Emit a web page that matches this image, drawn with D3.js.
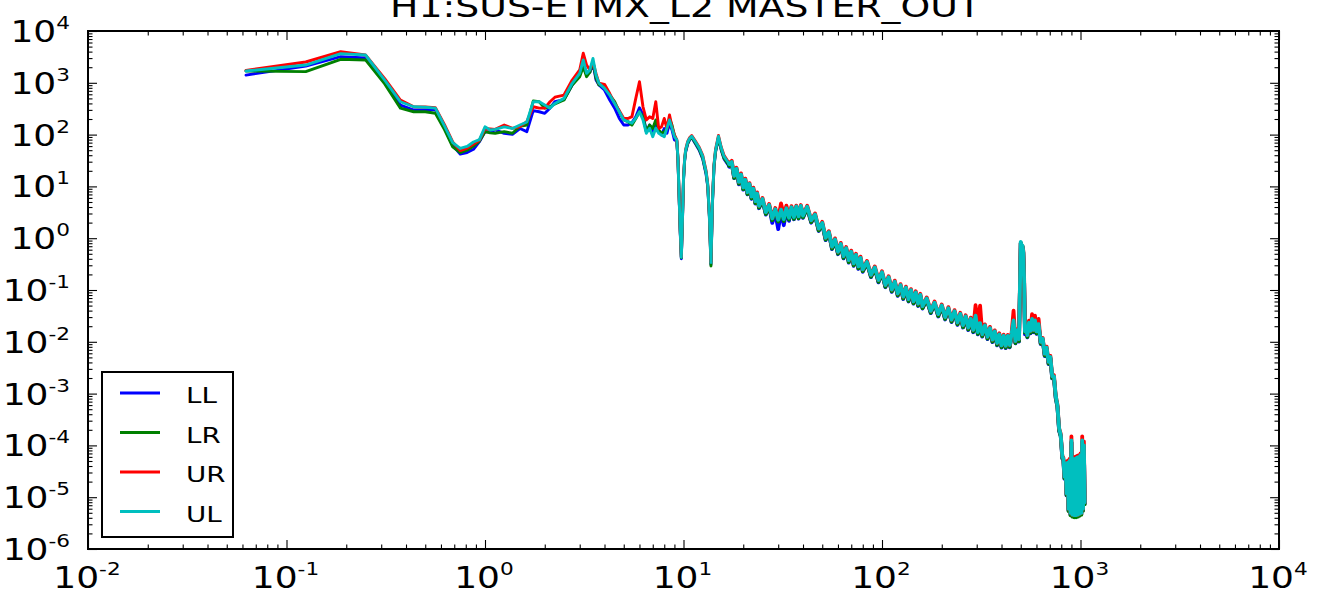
<!DOCTYPE html>
<html><head><meta charset="utf-8">
<script src="https://cdn.jsdelivr.net/npm/d3@7"></script>
<style>html,body{margin:0;padding:0;background:#fff;overflow:hidden}</style>
</head><body>
<svg id="chart" width="1318" height="595"></svg>
<script>
const chartTitle = "H1:SUS-ETMX_L2 MASTER_OUT";
const seriesNames = ["LL", "LR", "UR", "UL"];
const seriesColors = ["#0000ff", "#008000", "#ff0000", "#00bfbf"];
const xTickExps = [-2, -1, 0, 1, 2, 3, 4];
const yTickExps = [-6, -5, -4, -3, -2, -1, 0, 1, 2, 3, 4];

// frequency (Hz)
const freq = [
  0.0625, 0.125, 0.1875, 0.25, 0.3125, 0.375, 0.4375, 0.5, 0.5625,
  0.625, 0.6875, 0.75, 0.8125, 0.875, 0.9375, 1.0, 1.0625,
  1.125, 1.25, 1.375, 1.5, 1.625, 1.75, 1.875, 2.0, 2.125, 2.25,
  2.5, 2.75, 3.0, 3.125, 3.25, 3.375, 3.5, 3.625, 3.75, 4.0,
  4.25, 4.5, 4.75, 5.0, 5.25, 5.5, 5.75, 6.0, 6.25, 6.5,
  6.75, 7.0, 7.25, 7.5, 7.75, 8.0, 8.25, 8.5, 8.75, 9.0, 9.25,
  9.375, 9.5, 9.625, 9.75, 9.875, 10, 10.125, 10.25, 10.5, 10.75,
  11, 11.5, 12, 12.5, 13, 13.25, 13.5, 13.75, 14, 14.25,
  14.5, 15, 15.5, 16, 17,
  17.5, 18, 18.5, 19, 19.5, 20, 20.5, 21, 21.5, 22,
  22.5, 23, 23.5, 24, 25, 26, 27, 28, 29, 30,
  31, 32, 33, 34, 35, 36, 37, 38, 39, 40,
  42, 44, 46, 48, 50, 52, 54, 56, 58, 60,
  62, 64, 66, 68, 70, 72, 74, 76, 78, 80,
  84, 88, 92, 96, 100, 104, 108, 112, 116, 120,
  124, 128, 132, 136, 140, 144, 148, 152, 156, 160,
  168, 176, 184, 192, 200, 208, 216, 224, 232, 240,
  248, 256, 264, 272, 280, 288, 296, 304, 312, 320,
  330, 340, 350, 360, 370, 380, 390, 400, 410, 420,
  430, 440, 450, 460, 470, 480, 490, 496, 500, 505,
  510, 515, 520, 525, 530, 540, 550, 560, 570, 580,
  590, 600, 615, 630, 645, 660, 675, 690, 705, 720,
  735, 750, 765, 780, 795, 810, 820, 830, 840, 850,
  860, 870, 880, 890, 900, 910, 920, 930, 940, 950,
  960, 970, 980, 990, 1000, 1010, 1020, 1030, 1040, 1050
];

const LL = [
  1410, 2100, 3190, 3020, 1050, 372, 298, 300, 300,
  135, 62, 42, 45, 52, 73, 114, 112,
  123, 106, 101, 131, 114, 290, 276, 258, 324, 431,
  475, 910, 1420, 2370, 1520, 1600, 2370, 1130, 910, 725,
  465, 324, 205, 153, 153, 170, 220, 330, 240, 114,
  153, 106, 166, 114, 98, 131, 106, 166, 123, 79, 75,
  33, 6.5, 1.3, 0.40, 2.0, 13, 30, 46, 66, 80,
  88, 66, 50, 34, 17, 9.8, 2.6, 0.31, 5.0, 24,
  46, 85, 50, 34, 24,
  28.1, 14.4, 20.8, 11.0, 16.1, 8.64, 12.8, 7.0, 10.5, 5.76,
  8.55, 4.67, 6.93, 3.79, 5.41, 2.86, 4.14, 1.97, 3.09, 1.5,
  3.2, 1.78, 3.41, 2.16, 3.73, 2.32, 3.9, 2.39, 4.0, 2.47,
  3.83, 1.99, 2.73, 1.38, 1.87, 0.92, 1.25, 0.618, 0.898, 0.491,
  0.735, 0.407, 0.612, 0.339, 0.519, 0.293, 0.454, 0.256, 0.396, 0.225,
  0.331, 0.177, 0.259, 0.14, 0.21, 0.113, 0.167, 0.0921, 0.137, 0.0771,
  0.117, 0.067, 0.105, 0.0601, 0.0941, 0.0544, 0.0855, 0.0491, 0.0764, 0.0439,
  0.0652, 0.0357, 0.0541, 0.0308, 0.0476, 0.027, 0.0422, 0.024, 0.0371, 0.0212,
  0.0329, 0.0189, 0.0294, 0.0169, 0.0265, 0.0153, 0.0243, 0.0139, 0.0218, 0.0126,
  0.0196, 0.0113, 0.0175, 0.00986, 0.0151, 0.00854, 0.0132, 0.00771, 0.0126, 0.00755,
  0.0124, 0.00782, 0.0137, 0.022, 0.0093, 0.0159, 0.0101, 0.14, 0.80, 0.66,
  0.68, 0.52, 0.14, 0.014, 0.0184, 0.0122, 0.0222, 0.0146, 0.0262, 0.0153,
  0.0245, 0.0143, 0.0209, 0.00904, 0.0109, 0.00531, 0.00732, 0.00371, 0.00485, 0.00196,
  0.00204, 0.000821, 0.000562, 0.000193, 0.000151, 5.55e-5, 5.2e-5, 2.25e-5, 4.3e-5, 1.08e-5,
  4.4e-5, 5.5e-6, 4.8e-5, 4.6e-6, 1.15e-4, 4.3e-6, 5.2e-5, 4.2e-6, 5.2e-5, 4.2e-6,
  5.5e-5, 4.3e-6, 5.7e-5, 4.5e-6, 6.2e-5, 4.7e-6, 1.15e-4, 5.6e-6, 9.5e-5, 7.5e-6
];

const LR = [
  1690, 1640, 2840, 2760, 950, 324, 276, 276, 258,
  125, 58, 45, 50, 60, 75, 114, 108,
  106, 114, 106, 145, 153, 445, 431, 324, 345, 390,
  465, 910, 1310, 2050, 1310, 1600, 2560, 1220, 910, 840,
  580, 431, 276, 192, 178, 153, 205, 276, 222, 114,
  153, 131, 192, 123, 106, 114, 131, 205, 153, 98, 77,
  34, 6.7, 1.4, 0.42, 2.1, 13, 31, 48, 68, 82,
  90, 68, 52, 35, 18, 10, 2.6, 0.29, 5.2, 25,
  47, 88, 51, 35, 25,
  28.1, 14.6, 20.8, 11.3, 16.1, 8.83, 12.8, 7.14, 10.5, 5.89,
  8.55, 4.77, 6.93, 3.88, 5.41, 2.93, 4.14, 2.22, 3.44, 2.09,
  3.37, 2.14, 3.6, 2.28, 3.76, 2.37, 3.9, 2.43, 4.0, 2.53,
  3.83, 2.04, 2.73, 1.41, 1.87, 0.939, 1.25, 0.632, 0.898, 0.502,
  0.735, 0.416, 0.612, 0.346, 0.519, 0.3, 0.454, 0.262, 0.396, 0.231,
  0.331, 0.18, 0.259, 0.144, 0.21, 0.115, 0.167, 0.0939, 0.137, 0.0788,
  0.117, 0.0685, 0.105, 0.0614, 0.0941, 0.0556, 0.0855, 0.0502, 0.0764, 0.0448,
  0.0652, 0.0364, 0.0541, 0.0315, 0.0476, 0.0276, 0.0422, 0.0245, 0.0371, 0.0217,
  0.0329, 0.0192, 0.0294, 0.0173, 0.0265, 0.0157, 0.0243, 0.0142, 0.0218, 0.0129,
  0.0196, 0.0115, 0.0175, 0.0101, 0.0151, 0.00872, 0.0132, 0.00788, 0.0126, 0.00772,
  0.0124, 0.00799, 0.0137, 0.023, 0.00948, 0.0159, 0.0103, 0.14, 0.82, 0.68,
  0.70, 0.53, 0.14, 0.015, 0.0184, 0.0124, 0.0222, 0.0149, 0.0262, 0.0157,
  0.0245, 0.0146, 0.0209, 0.00924, 0.0109, 0.00543, 0.00732, 0.00379, 0.00485, 0.002,
  0.00204, 0.000839, 0.000562, 0.000197, 0.000151, 5.68e-5, 5.2e-5, 2.3e-5, 4.3e-5, 1.1e-5,
  4.4e-5, 5.4e-6, 4.8e-5, 4.5e-6, 1.15e-4, 4.2e-6, 5.2e-5, 4.1e-6, 5.2e-5, 4.1e-6,
  5.5e-5, 4.2e-6, 5.7e-5, 4.4e-6, 6.2e-5, 4.6e-6, 1.15e-4, 5.5e-6, 9.5e-5, 7.3e-6
];

const UR = [
  1730, 2520, 3980, 3440, 1200, 465, 345, 340, 330,
  155, 72, 49, 55, 66, 78, 130, 128,
  126, 153, 132, 143, 178, 345, 324, 324, 431, 527,
  580, 1130, 1770, 3720, 2200, 1770, 2500, 1500, 980, 935,
  620, 400, 290, 205, 205, 222, 500, 1050, 345, 192,
  222, 205, 431, 131, 141, 205, 131, 240, 141, 98, 80,
  36, 7.0, 1.45, 0.44, 2.3, 14.5, 33, 52, 74, 88,
  96, 74, 57, 40, 20, 11, 2.9, 0.35, 5.7, 27,
  52, 96, 57, 40, 28,
  31.1, 16.0, 22.9, 12.2, 17.8, 9.58, 14.1, 7.79, 11.6, 6.39,
  9.45, 5.18, 7.66, 4.22, 5.99, 3.18, 4.57, 2.44, 3.83, 2.35,
  4.69, 2.82, 4.26, 2.63, 4.15, 2.72, 4.26, 2.72, 4.37, 2.82,
  4.24, 2.22, 3.0, 1.53, 2.07, 1.02, 1.37, 0.686, 0.992, 0.546,
  0.812, 0.452, 0.676, 0.377, 0.574, 0.326, 0.501, 0.285, 0.439, 0.251,
  0.365, 0.196, 0.286, 0.156, 0.231, 0.125, 0.184, 0.102, 0.152, 0.0856,
  0.13, 0.0745, 0.116, 0.0668, 0.104, 0.0604, 0.0945, 0.0546, 0.0845, 0.0487,
  0.072, 0.0396, 0.0599, 0.0342, 0.0526, 0.03, 0.0466, 0.0267, 0.0409, 0.0236,
  0.0363, 0.0209, 0.0325, 0.0188, 0.0293, 0.017, 0.0510, 0.0220, 0.0500, 0.014,
  0.0217, 0.0125, 0.0194, 0.011, 0.0166, 0.00948, 0.0146, 0.00856, 0.0138, 0.00839,
  0.0136, 0.00869, 0.0152, 0.040, 0.0103, 0.0176, 0.0113, 0.16, 0.80, 0.72,
  0.70, 0.58, 0.17, 0.018, 0.0203, 0.0135, 0.0256, 0.0162, 0.0341, 0.017,
  0.032, 0.0159, 0.0277, 0.01, 0.0119, 0.0059, 0.00808, 0.00412, 0.00536, 0.00218,
  0.00226, 0.000912, 0.000622, 0.000214, 0.000167, 6.17e-5, 5.8e-5, 2.5e-5, 4.7e-5, 1.2e-5,
  5.0e-5, 6e-6, 5.5e-5, 5e-6, 1.5e-4, 4.6e-6, 6e-5, 4.5e-6, 6e-5, 4.5e-6,
  6.3e-5, 4.6e-6, 6.5e-5, 4.8e-6, 7e-5, 5.0e-6, 1.5e-4, 6e-6, 1.2e-4, 8e-6
];

const UL = [
  1690, 2200, 3650, 3440, 1130, 431, 345, 338, 324,
  147, 70, 54, 59, 72, 80, 141, 123,
  126, 141, 131, 153, 175, 431, 431, 372, 324, 400,
  500, 980, 1520, 2760, 1520, 1770, 2960, 1410, 980, 780,
  580, 400, 276, 192, 178, 166, 208, 276, 192, 106,
  133, 91, 133, 106, 98, 91, 133, 192, 133, 91, 79,
  35, 6.9, 1.43, 0.43, 2.2, 14, 32, 50, 72, 85,
  93, 72, 55, 38, 19, 10.7, 2.8, 0.34, 5.5, 26,
  50, 93, 55, 38, 27,
  29.6, 16.0, 21.8, 12.2, 16.9, 9.58, 13.4, 7.77, 11.1, 6.39,
  9.0, 5.18, 7.3, 4.22, 5.7, 3.18, 4.36, 2.41, 3.62, 2.27,
  3.55, 2.33, 3.79, 2.48, 3.96, 2.57, 4.1, 2.65, 4.22, 2.74,
  4.04, 2.22, 2.86, 1.53, 1.97, 1.02, 1.31, 0.686, 0.945, 0.546,
  0.773, 0.452, 0.644, 0.377, 0.546, 0.326, 0.477, 0.285, 0.417, 0.251,
  0.348, 0.196, 0.273, 0.156, 0.22, 0.125, 0.176, 0.102, 0.145, 0.0856,
  0.124, 0.0745, 0.111, 0.0668, 0.0992, 0.0604, 0.09, 0.0546, 0.0804, 0.0487,
  0.0686, 0.0396, 0.057, 0.0342, 0.0501, 0.03, 0.0444, 0.0267, 0.039, 0.0236,
  0.0346, 0.0209, 0.0309, 0.0188, 0.0279, 0.017, 0.032, 0.0154, 0.023, 0.014,
  0.0207, 0.0125, 0.0184, 0.011, 0.0159, 0.00948, 0.0138, 0.00856, 0.0132, 0.00839,
  0.013, 0.00869, 0.0145, 0.026, 0.0103, 0.0167, 0.0113, 0.15, 0.85, 0.70,
  0.72, 0.55, 0.15, 0.016, 0.0194, 0.0135, 0.0233, 0.0162, 0.0276, 0.017,
  0.0258, 0.0159, 0.0219, 0.01, 0.0114, 0.0059, 0.0077, 0.00412, 0.0051, 0.00218,
  0.00215, 0.000912, 0.000592, 0.000214, 0.000159, 6.17e-5, 5.5e-5, 2.5e-5, 4.5e-5, 1.2e-5,
  4.6e-5, 6e-6, 5e-5, 5e-6, 1.25e-4, 4.6e-6, 5.5e-5, 4.5e-6, 5.5e-5, 4.5e-6,
  5.8e-5, 4.6e-6, 6e-5, 4.8e-6, 6.5e-5, 5.0e-6, 1.25e-4, 6e-6, 1.0e-4, 8e-6
];

const seriesValues = [LL, LR, UR, UL];

// ---------- layout ----------
const W = 1318, H = 595;
const plot = { left: 88, right: 1279, top: 31, bottom: 549 };
const FONT = "DejaVu Sans";
const SX_TICK = 1.2;
const SX_TITLE = 1.26;
const BAND_START = 17;      // above this the dense spectrum reads as a thick band
const LW = 2.9, LW_BAND = 3.8;

const x = d3.scaleLog().domain([1e-2, 1e4]).range([plot.left, plot.right]);
const y = d3.scaleLog().domain([1e-6, 1e4]).range([plot.bottom, plot.top]);

const svg = d3.select("#chart");
svg.append("rect").attr("width", W).attr("height", H).attr("fill", "#fff");

svg.append("defs").append("clipPath").attr("id", "plotclip")
  .append("rect").attr("x", plot.left).attr("y", plot.top)
  .attr("width", plot.right - plot.left).attr("height", plot.bottom - plot.top);

// ---------- series ----------
const line = d3.line().x(d => x(d[0])).y(d => y(d[1]));
const lines = svg.append("g").attr("clip-path", "url(#plotclip)");
seriesNames.forEach((name, i) => {
  const vals = seriesValues[i];
  const n = Math.min(freq.length, vals.length);
  const pts = [];
  for (let j = 0; j < n; j++) if (vals[j] != null) pts.push([freq[j], vals[j]]);
  const parts = [
    [pts.filter(d => d[0] <= BAND_START), LW],
    [pts.filter(d => d[0] >= BAND_START), LW_BAND]
  ];
  parts.forEach(([p, w]) => {
    lines.append("path").datum(p)
      .attr("d", line)
      .attr("fill", "none")
      .attr("stroke", seriesColors[i])
      .attr("stroke-width", w)
      .attr("stroke-linejoin", "round")
      .attr("stroke-linecap", "round");
  });
});

// ---------- ticks ----------
function minorsFor(exps) {
  const out = [];
  for (let k = 0; k < exps.length - 1; k++)
    for (let m = 2; m <= 9; m++) out.push(m * Math.pow(10, exps[k]));
  return out;
}
const xMajor = xTickExps.map(e => Math.pow(10, e));
const yMajor = yTickExps.map(e => Math.pow(10, e));
const xMinor = minorsFor(xTickExps);
const yMinor = minorsFor(yTickExps);

function tickAxis(axis, tr, values, size) {
  svg.append("g").attr("transform", tr)
    .call(axis.tickValues(values).tickSize(size).tickFormat(""))
    .call(g => g.select(".domain").remove())
    .call(g => g.selectAll("line").attr("stroke", "#000").attr("stroke-width", 1.1));
}
[[xMajor, -9], [xMinor, -4.5]].forEach(([v, s]) => {
  tickAxis(d3.axisBottom(x), `translate(0,${plot.bottom})`, v, s);
  tickAxis(d3.axisTop(x), `translate(0,${plot.top})`, v, s);
});
[[yMajor, -9], [yMinor, -4.5]].forEach(([v, s]) => {
  tickAxis(d3.axisLeft(y), `translate(${plot.left},0)`, v, s);
  tickAxis(d3.axisRight(y), `translate(${plot.right},0)`, v, s);
});

// frame
svg.append("rect")
  .attr("x", plot.left).attr("y", plot.top)
  .attr("width", plot.right - plot.left).attr("height", plot.bottom - plot.top)
  .attr("fill", "none").attr("stroke", "#000").attr("stroke-width", 2);

// ---------- tick labels ----------
function powLabel(px, py, e, anchor) {
  const t = svg.append("text")
    .attr("transform", `translate(${px},${py}) scale(${SX_TICK},1)`)
    .attr("text-anchor", anchor)
    .attr("font-family", FONT).attr("font-size", 30).attr("fill", "#000");
  t.append("tspan").text("10");
  t.append("tspan").attr("font-size", 18).attr("dy", -13).text(String(e));
}
xTickExps.forEach(e => powLabel(x(Math.pow(10, e)) - 1, 588, e, "middle"));
yTickExps.forEach(e => powLabel(70, y(Math.pow(10, e)) + 11, e, "end"));

// ---------- title (its top is cut by the window edge, as in the reference) ----------
svg.append("text")
  .attr("transform", `translate(${(plot.left + plot.right) / 2 + 2},17) scale(${SX_TITLE},1)`)
  .attr("text-anchor", "middle")
  .attr("font-family", FONT).attr("font-size", 30).attr("fill", "#000")
  .text(chartTitle);

// ---------- legend ----------
const lg = svg.append("g");
lg.append("rect").attr("x", 102).attr("y", 372).attr("width", 131).attr("height", 165)
  .attr("fill", "#fff").attr("stroke", "#000").attr("stroke-width", 2);
seriesNames.forEach((name, i) => {
  const ly = 393 + i * 39.5;
  lg.append("line").attr("x1", 120).attr("x2", 160).attr("y1", ly).attr("y2", ly)
    .attr("stroke", seriesColors[i]).attr("stroke-width", LW);
  lg.append("text")
    .attr("transform", `translate(186,${ly + 10}) scale(1.26,1)`)
    .attr("font-family", FONT).attr("font-size", 22).attr("fill", "#000")
    .text(name);
});
</script>
</body></html>
